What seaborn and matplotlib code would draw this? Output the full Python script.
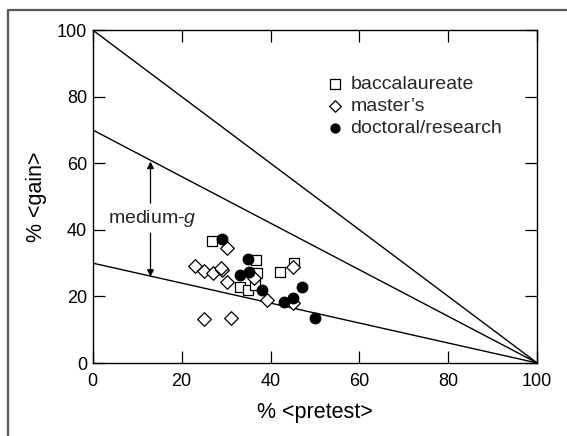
import matplotlib
matplotlib.use("Agg")
import matplotlib.pyplot as plt
from matplotlib.lines import Line2D
import seaborn as sns
import numpy as np
import pandas as pd

sns.set_theme(style="ticks")
plt.rcParams["font.family"] = ["Liberation Sans", "DejaVu Sans"]
plt.rcParams["mathtext.fontset"] = "custom"
plt.rcParams["mathtext.it"] = "Liberation Sans:italic"
plt.rcParams["mathtext.rm"] = "Liberation Sans"

# ── data ─────────────────────────────────────────────────────────────────────
bacc_pre = [26.8, 36.7, 37.0, 42.2, 45.3, 33.2, 35.0, 36.5]
bacc_gain = [36.6, 31.0, 26.9, 27.4, 30.0, 22.9, 22.0, 23.5]

mast_pre = [30.1, 22.9, 25.0, 27.1, 29.1, 28.9, 30.2, 36.2, 39.2, 45.1, 45.1, 25.1, 31.1]
mast_gain = [34.6, 29.0, 27.5, 26.9, 27.9, 28.6, 24.4, 25.5, 19.0, 28.9, 17.9, 13.1, 13.4]

doc_pre = [29.0, 35.0, 33.1, 35.1, 38.1, 47.1, 43.1, 45.0, 50.0]
doc_gain = [37.3, 31.3, 26.5, 27.4, 22.0, 22.9, 18.3, 19.6, 13.4]

# <g> reference lines: gain = g * (100 - pretest)
g_levels = [1.0, 0.7, 0.3]

df = pd.concat([
    pd.DataFrame({"pretest": bacc_pre, "gain": bacc_gain, "type": "baccalaureate"}),
    pd.DataFrame({"pretest": mast_pre, "gain": mast_gain, "type": "master\u2019s"}),
    pd.DataFrame({"pretest": doc_pre, "gain": doc_gain, "type": "doctoral/research"}),
])

styles = {
    "baccalaureate": dict(marker="s", facecolor="white", s=62),
    "master\u2019s": dict(marker="D", facecolor="white", s=48),
    "doctoral/research": dict(marker="o", facecolor="black", s=58),
}

fig = plt.figure(figsize=(5.67, 4.36), dpi=100)
ax = fig.add_axes([0.1635, 0.1674, 0.784, 0.7637])

x_line = np.array([0, 100])
for g in g_levels:
    sns.lineplot(x=x_line, y=g * (100 - x_line), color="black", linewidth=1.0, ax=ax)

for name, st in styles.items():
    sub = df[df["type"] == name]
    sns.scatterplot(data=sub, x="pretest", y="gain", marker=st["marker"],
                    s=st["s"], color=st["facecolor"], edgecolor="black",
                    linewidth=0.9, label=name, ax=ax, zorder=3)

# medium-g band marker
ax.annotate("", xy=(13.0, 60.5), xytext=(13.0, 48.0),
            arrowprops=dict(arrowstyle="-|>", color="black", lw=0.9,
                            mutation_scale=10, shrinkA=0, shrinkB=0))
ax.annotate("", xy=(13.0, 25.9), xytext=(13.0, 39.0),
            arrowprops=dict(arrowstyle="-|>", color="black", lw=0.9,
                            mutation_scale=10, shrinkA=0, shrinkB=0))
ax.text(13.3, 43.5, "medium-$g$", ha="center", va="center", fontsize=14)

ax.set_xlim(0, 100)
ax.set_ylim(0, 100)
ax.set_xticks(range(0, 101, 20))
ax.set_yticks(range(0, 101, 20))
ax.tick_params(direction="in", top=True, right=True, length=8.5, width=0.9,
               labelsize=13, color="black", labelcolor="black")
ax.tick_params(axis="x", pad=7)
ax.tick_params(axis="y", pad=4)
for sp in ax.spines.values():
    sp.set_color("black")
    sp.set_linewidth(1.0)
ax.set_xlabel("% <pretest>", fontsize=15.5, color="black", labelpad=9)
ax.set_ylabel("% <gain>", fontsize=15.5, color="black", labelpad=7)

ax.legend(loc="upper left", bbox_to_anchor=(0.577, 0.826),
          bbox_transform=fig.transFigure, frameon=False,
          fontsize=14, handletextpad=0.4, labelspacing=0.22,
          borderpad=0, borderaxespad=0, handlelength=0.8, markerscale=0.85)

# partial frame round the figure (top and left edges)
fig.lines.append(Line2D([8 / 567, 8 / 567, 1.0], [0.0, 1 - 10 / 436, 1 - 10 / 436],
                        transform=fig.transFigure, color="#555555", linewidth=1.6))

fig.savefig("out.png", dpi=100)
